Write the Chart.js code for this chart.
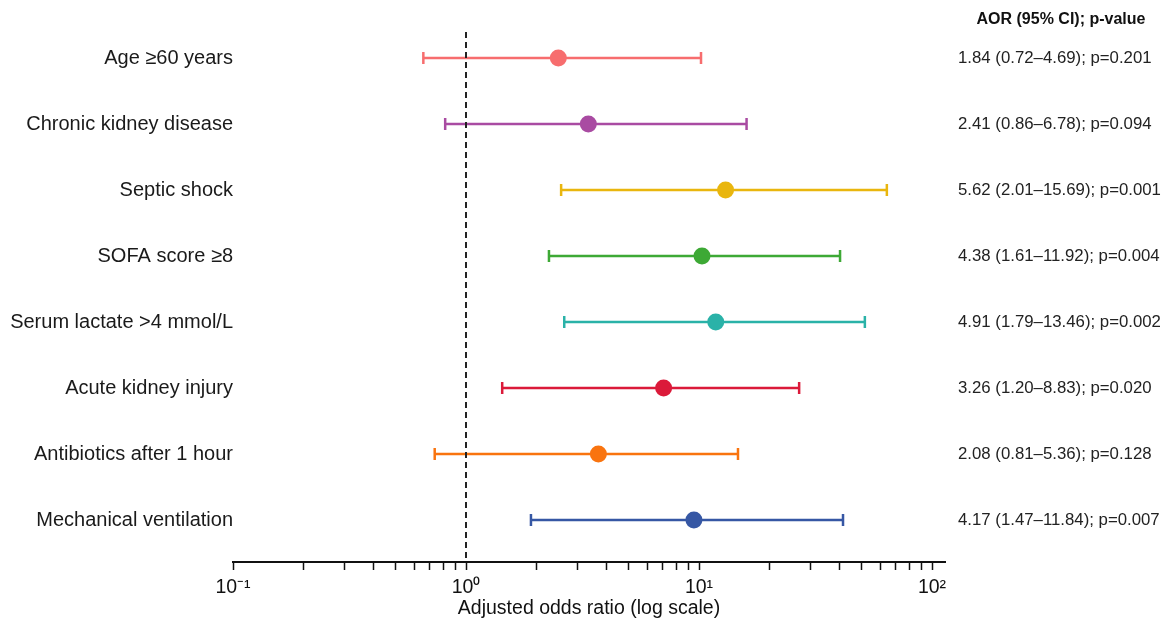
<!DOCTYPE html>
<html>
<head>
<meta charset="utf-8">
<script src="https://cdn.jsdelivr.net/npm/chart.js@4"></script>
<style>
  html, body { margin: 0; padding: 0; background: #ffffff; }
  #c { display: block; }
</style>
</head>
<body>
<canvas id="c" width="1173" height="618"></canvas>
<script>
// ---------- DATA ----------
const categories = [
  'Age ≥60 years',
  'Chronic kidney disease',
  'Septic shock',
  'SOFA score ≥8',
  'Serum lactate >4 mmol/L',
  'Acute kidney injury',
  'Antibiotics after 1 hour',
  'Mechanical ventilation'
];
const pointValues = [2.49, 3.35, 13.0, 10.3, 11.8, 7.05, 3.70, 9.51];
const lowerValues = [0.656, 0.814, 2.56, 2.27, 2.64, 1.43, 0.734, 1.90];
const upperValues = [10.2, 16.0, 64.0, 40.3, 51.5, 26.9, 14.7, 41.5];
const aorLabels = [
  '1.84 (0.72–4.69); p=0.201',
  '2.41 (0.86–6.78); p=0.094',
  '5.62 (2.01–15.69); p=0.001',
  '4.38 (1.61–11.92); p=0.004',
  '4.91 (1.79–13.46); p=0.002',
  '3.26 (1.20–8.83); p=0.020',
  '2.08 (0.81–5.36); p=0.128',
  '4.17 (1.47–11.84); p=0.007'
];
const rowColors = ['#F76D6E', '#A94BA2', '#E9B60E', '#3DA935', '#2AB2A8', '#DB1A3A', '#F9740F', '#3657A4'];
const xTickValues = [0.1,0.2,0.3,0.4,0.5,0.6,0.7,0.8,0.9,1,2,3,4,5,6,7,8,9,10,20,30,40,50,60,70,80,90,100];
const xTickLabels = {'0.1': '10⁻¹', '1': '10⁰', '10': '10¹', '100': '10²'};
const referenceValue = 1;
const headerText = 'AOR (95% CI); p-value';
const xTitle = 'Adjusted odds ratio (log scale)';

// ---------- SCALE RANGES ----------
const Y_MIN = 0.606, Y_MAX = 8.636;
const X_MIN = 0.1, X_MAX = 113.7;
const FONT = "'Liberation Sans', Arial, sans-serif";

// ---------- DATASETS ----------
const datasets = [];
categories.forEach((cat, i) => {
  datasets.push({
    type: 'line',
    label: cat + ' CI',
    data: [{x: lowerValues[i], y: i + 1}, {x: upperValues[i], y: i + 1}],
    borderColor: rowColors[i],
    backgroundColor: rowColors[i],
    borderWidth: 2.5,
    pointStyle: 'line',
    pointRotation: 90,
    pointRadius: 6,
    pointBorderWidth: 2.5,
    pointBorderColor: rowColors[i],
    fill: false,
    order: 3
  });
});
datasets.push({
  type: 'scatter',
  label: 'AOR',
  data: pointValues.map((v, i) => ({x: v, y: i + 1})),
  backgroundColor: rowColors,
  borderColor: rowColors,
  borderWidth: 0,
  pointRadius: 8.5,
  order: 2
});
datasets.push({
  type: 'line',
  label: 'reference',
  data: [{x: referenceValue, y: Y_MIN}, {x: referenceValue, y: Y_MAX}],
  borderColor: '#222222',
  borderWidth: 2,
  borderDash: [6, 4],
  pointRadius: 0,
  fill: false,
  clip: false,
  order: 1
});

const headerPlugin = {
  id: 'header',
  afterDraw(chart) {
    const ctx = chart.ctx;
    ctx.save();
    ctx.font = "bold 16px " + FONT;
    ctx.fillStyle = '#111111';
    ctx.textAlign = 'center';
    ctx.textBaseline = 'middle';
    ctx.fillText(headerText, 1061, 20);
    ctx.restore();
  }
};

const rowTicks = (scale) => { scale.ticks = categories.map((c, i) => ({value: i + 1})); };

new Chart(document.getElementById('c'), {
  data: { datasets },
  plugins: [headerPlugin],
  options: {
    responsive: false,
    animation: false,
    events: [],
    layout: { padding: { left: 0, right: 0, top: 32, bottom: 0 } },
    plugins: { legend: { display: false }, tooltip: { enabled: false }, title: { display: false } },
    scales: {
      x: {
        type: 'logarithmic',
        position: 'bottom',
        min: X_MIN,
        max: X_MAX,
        afterBuildTicks: (scale) => { scale.ticks = xTickValues.map(v => ({value: v})); },
        afterFit: (scale) => { scale.height = 56; },
        ticks: {
          autoSkip: false,
          maxRotation: 0,
          minRotation: 0,
          padding: 6,
          color: '#111111',
          font: { family: FONT, size: 19.5 },
          callback: (value) => xTickLabels[String(value)] || ''
        },
        grid: {
          drawOnChartArea: false,
          drawTicks: true,
          tickLength: 8,
          tickColor: '#111111',
          tickWidth: 1.5
        },
        border: { display: true, color: '#111111', width: 2 },
        title: {
          display: true,
          text: xTitle,
          color: '#111111',
          font: { family: FONT, size: 19.5, lineHeight: 1 },
          padding: { top: 0, bottom: 0 }
        }
      },
      y: {
        type: 'linear',
        position: 'left',
        reverse: true,
        min: Y_MIN,
        max: Y_MAX,
        afterBuildTicks: rowTicks,
        afterFit: (scale) => { scale.width = 233; },
        ticks: {
          padding: 0,
          color: '#1a1a1a',
          font: { family: FONT, size: 20 },
          callback: (value) => categories[value - 1] || ''
        },
        grid: { display: false, drawTicks: false },
        border: { display: false }
      },
      y2: {
        type: 'linear',
        position: 'right',
        reverse: true,
        min: Y_MIN,
        max: Y_MAX,
        afterBuildTicks: rowTicks,
        afterFit: (scale) => { scale.width = 228; },
        ticks: {
          padding: 13,
          color: '#222222',
          font: { family: FONT, size: 16.8 },
          callback: (value) => aorLabels[value - 1] || ''
        },
        grid: { display: false, drawTicks: false },
        border: { display: false }
      }
    }
  }
});
</script>
</body>
</html>
